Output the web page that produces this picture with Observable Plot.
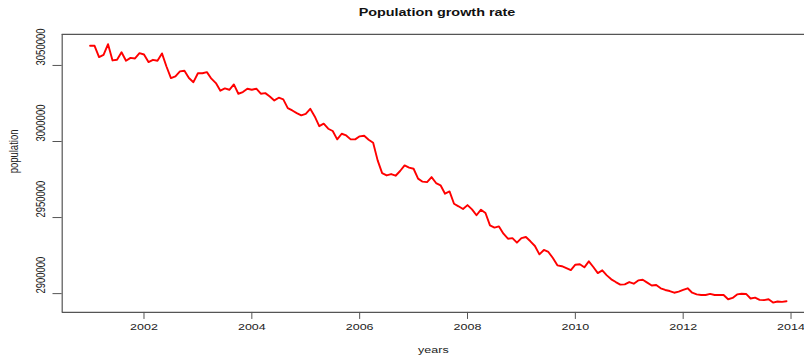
<!DOCTYPE html>
<html><head><meta charset="utf-8">
<script src="https://cdn.jsdelivr.net/npm/d3@7"></script>
<script src="https://cdn.jsdelivr.net/npm/@observablehq/plot@0.6"></script>
<style>
body{margin:0;background:#fff;overflow:hidden;width:804px;height:360px;font-family:"Liberation Sans",Arial,sans-serif;}
#title{position:relative;height:24px;width:804px;overflow:visible;}
#title span{position:absolute;left:0;width:874px;text-align:center;top:0;line-height:24px;font-weight:bold;font-size:14.4px;color:#111;transform:scaleY(0.76);}
#chart svg path, #chart svg line{vector-effect:non-scaling-stroke;}
</style></head><body>
<div id="title"><span>Population growth rate</span></div>
<div id="chart"></div>
<script>
// Monthly series, Jan 2001 .. Dec 2013
const startYear = 2001;
const population = [
3062900, 3062900, 3055500, 3057000, 3064000, 3053300, 3053700, 3058700, 3053100, 3055000,
3054600, 3058100, 3057200, 3052200, 3053700, 3053100, 3057900, 3049300, 3041700, 3042800,
3046100, 3046500, 3041700, 3039000, 3044900, 3044900, 3045600, 3041300, 3038400, 3033400,
3034900, 3034000, 3037500, 3031400, 3032500, 3034700, 3034000, 3034700, 3031400, 3031800,
3029600, 3027000, 3028800, 3027700, 3021900, 3020400, 3018700, 3017200, 3018200, 3021500,
3016500, 3010100, 3011700, 3008400, 3006900, 3001400, 3005100, 3004000, 3001400, 3001400,
3003400, 3003800, 3001200, 2999200, 2987600, 2979200, 2977700, 2978600, 2977500, 2980600,
2984300, 2982800, 2982100, 2975600, 2973600, 2973300, 2976600, 2972700, 2971200, 2965700,
2967200, 2959100, 2957400, 2955600, 2958200, 2955400, 2951500, 2955200, 2953000, 2944900,
2943400, 2944200, 2939400, 2936100, 2936500, 2933500, 2936500, 2937200, 2934400, 2931300,
2925800, 2928700, 2927400, 2923400, 2918600, 2918000, 2916800, 2915500, 2919000, 2919300,
2917300, 2921200, 2917500, 2913500, 2915300, 2912000, 2909400, 2907600, 2905900, 2906100,
2907600, 2906500, 2908700, 2909100, 2907200, 2905300, 2905700, 2903500, 2902400, 2901700,
2900600, 2901300, 2902400, 2903500, 2900600, 2899500, 2899100, 2899100, 2899800, 2899100,
2899100, 2899100, 2896300, 2897200, 2899500, 2899900, 2899800, 2896800, 2897400, 2895900,
2895700, 2896300, 2894100, 2894800, 2894600, 2895000
];
const xTicks = [2002, 2004, 2006, 2008, 2010, 2012, 2014];
const yTicks = [2900000, 2950000, 3000000, 3050000];
const xLabel = "years";
const yLabel = "population";

const data = population.map((v, i) => ({t: startYear + i / 12, v}));

const W = 804, H = 442, S = 0.76;
const xDom = [2000.483, 2014.25];
const yDom = [2887700, 3070400];

const chart = Plot.plot({
  width: W, height: H,
  marginLeft: 61.7, marginRight: 0, marginTop: 13.2, marginBottom: 63.1,
  x: {domain: xDom, label: null},
  y: {domain: yDom, label: null},
  style: {fontFamily: "'Liberation Sans', Arial, sans-serif", fontSize: "12.5px", color: "#222", background: "#fff"},
  marks: [
    Plot.ruleY([yDom[0], yDom[1]], {stroke: "#555", strokeWidth: 1.2}),
    Plot.ruleX([xDom[0]], {stroke: "#555", strokeWidth: 1.2}),
    Plot.axisX({ticks: xTicks, tickSize: 9.2, tickPadding: 5, tickFormat: d => String(d), stroke: "#555", label: null}),
    Plot.axisY({ticks: yTicks, tickSize: 9.2, tickFormat: () => "", stroke: "#555", label: null}),
    Plot.text(yTicks, {y: d => d, text: d => String(d), frameAnchor: "left", dx: -21.5, rotate: -90, fill: "#222"}),
    Plot.text([yLabel], {frameAnchor: "left", dx: -48, rotate: -90, fill: "#222"}),
    Plot.text([xLabel], {frameAnchor: "bottom", dy: 54, fill: "#222"}),
    Plot.line(data, {x: "t", y: "v", stroke: "#ff0000", strokeWidth: 1.9})
  ]
});
chart.setAttribute("preserveAspectRatio", "none");
chart.setAttribute("height", H * S);
chart.style.height = (H * S) + "px";
chart.style.width = W + "px";
chart.style.maxWidth = "none";
document.getElementById("chart").appendChild(chart);
</script></body></html>
